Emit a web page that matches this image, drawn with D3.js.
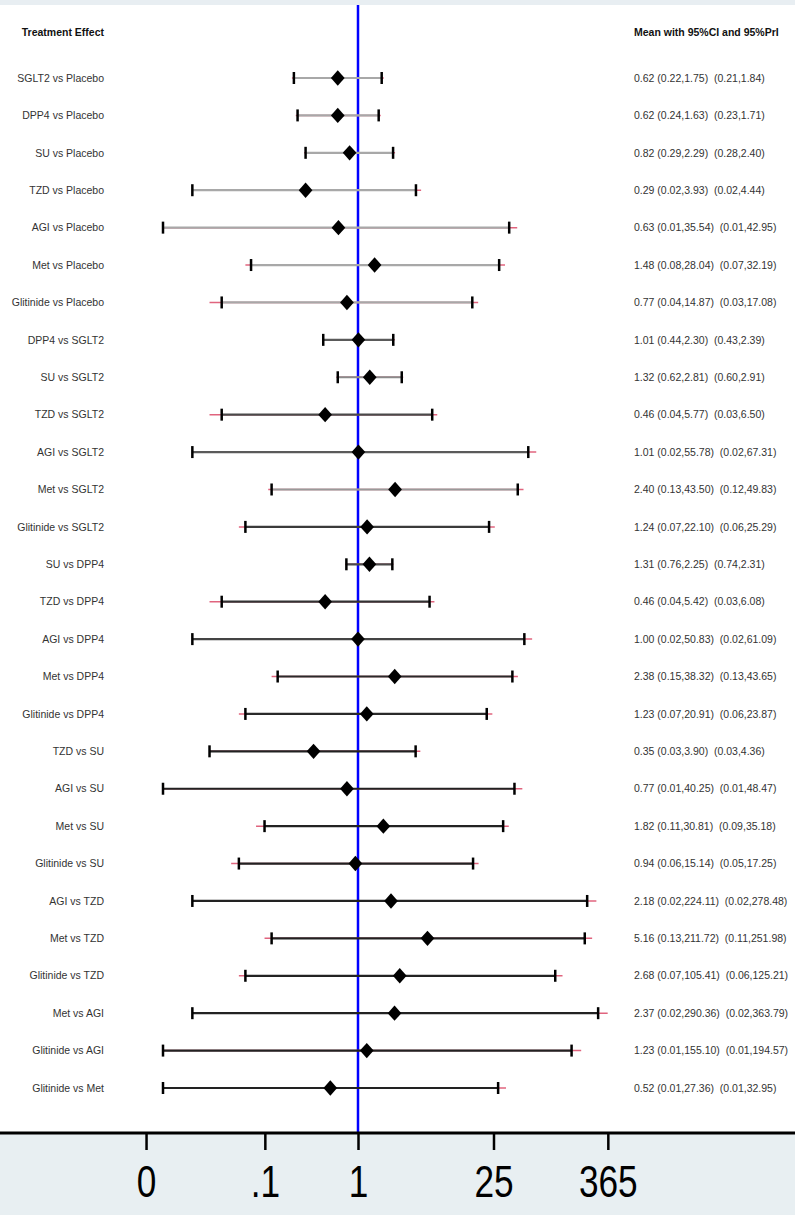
<!DOCTYPE html>
<html>
<head>
<meta charset="utf-8">
<script src="https://cdn.jsdelivr.net/npm/d3@7"></script>
<style>
  html, body { margin: 0; padding: 0; background: #ffffff; }
  svg { display: block; }
  text { font-family: "Liberation Sans", Arial, sans-serif; }
</style>
</head>
<body>
<svg id="chart" width="795" height="1215"></svg>
<script>
// Pairwise comparisons: mean effect, 95% confidence interval, 95% prediction interval
const comparisons = [
  "SGLT2 vs Placebo", "DPP4 vs Placebo", "SU vs Placebo", "TZD vs Placebo",
  "AGI vs Placebo", "Met vs Placebo", "Glitinide vs Placebo",
  "DPP4 vs SGLT2", "SU vs SGLT2", "TZD vs SGLT2", "AGI vs SGLT2",
  "Met vs SGLT2", "Glitinide vs SGLT2",
  "SU vs DPP4", "TZD vs DPP4", "AGI vs DPP4", "Met vs DPP4", "Glitinide vs DPP4",
  "TZD vs SU", "AGI vs SU", "Met vs SU", "Glitinide vs SU",
  "AGI vs TZD", "Met vs TZD", "Glitinide vs TZD",
  "Met vs AGI", "Glitinide vs AGI", "Glitinide vs Met"
];
const mean = [0.62, 0.62, 0.82, 0.29, 0.63, 1.48, 0.77, 1.01, 1.32, 0.46, 1.01, 2.40, 1.24,
  1.31, 0.46, 1.00, 2.38, 1.23, 0.35, 0.77, 1.82, 0.94, 2.18, 5.16, 2.68, 2.37, 1.23, 0.52];
const ciLow = [0.22, 0.24, 0.29, 0.02, 0.01, 0.08, 0.04, 0.44, 0.62, 0.04, 0.02, 0.13, 0.07,
  0.76, 0.04, 0.02, 0.15, 0.07, 0.03, 0.01, 0.11, 0.06, 0.02, 0.13, 0.07, 0.02, 0.01, 0.01];
const ciHigh = [1.75, 1.63, 2.29, 3.93, 35.54, 28.04, 14.87, 2.30, 2.81, 5.77, 55.78, 43.50, 22.10,
  2.25, 5.42, 50.83, 38.32, 20.91, 3.90, 40.25, 30.81, 15.14, 224.11, 211.72, 105.41, 290.36, 155.10, 27.36];
const priLow = [0.21, 0.23, 0.28, 0.02, 0.01, 0.07, 0.03, 0.43, 0.60, 0.03, 0.02, 0.12, 0.06,
  0.74, 0.03, 0.02, 0.13, 0.06, 0.03, 0.01, 0.09, 0.05, 0.02, 0.11, 0.06, 0.02, 0.01, 0.01];
const priHigh = [1.84, 1.71, 2.40, 4.44, 42.95, 32.19, 17.08, 2.39, 2.91, 6.50, 67.31, 49.83, 25.29,
  2.31, 6.08, 61.09, 43.65, 23.87, 4.36, 48.47, 35.18, 17.25, 278.48, 251.98, 125.21, 363.79, 194.57, 32.95];

// Axis ticks (log scale) and their labels
const tickValues = [0.0067, 0.1108, 1, 24.53, 365.04];
const tickLabels = ["0", ".1", "1", "25", "365"];

// Grey level of each interval line
const lineGrey = ["#a8a8a8", "#a8a8a8", "#a8a8a8", "#a8a8a8", "#a8a8a8", "#a8a8a8", "#a8a8a8",
  "#5a5a5a", "#8a8a8a", "#4a4a4a", "#5a5a5a", "#999999", "#3a3a3a",
  "#4a4a4a", "#333333", "#444444", "#2a2a2a", "#2a2a2a",
  "#222222", "#222222", "#222222", "#222222", "#222222", "#222222", "#222222",
  "#222222", "#222222", "#222222"];

const fmt = d3.format(".2f");
const rows = comparisons.map((name, i) => ({
  name, i,
  mean: mean[i], lo: ciLow[i], hi: ciHigh[i], plo: priLow[i], phi: priHigh[i],
  text: `${fmt(mean[i])} (${fmt(ciLow[i])},${fmt(ciHigh[i])})  (${fmt(priLow[i])},${fmt(priHigh[i])})`
}));

const W = 795, H = 1215;
const axisY = 1133;
const svg = d3.select("#chart");

// backgrounds
svg.append("rect").attr("x", 0).attr("y", 0).attr("width", W).attr("height", 5).attr("fill", "#e8eef2");
svg.append("rect").attr("x", 0).attr("y", axisY).attr("width", W).attr("height", H - axisY).attr("fill", "#e8eff2");

const x = d3.scaleLog().domain([0.001, 1000]).range([358 - 3 * 97.5, 358 + 3 * 97.5]);
const y = d3.scalePoint().domain(comparisons).range([78, 1088]);

// reference line at 1
svg.append("line")
  .attr("x1", x(1)).attr("x2", x(1))
  .attr("y1", 5).attr("y2", axisY)
  .attr("stroke", "#0000ff").attr("stroke-width", 2.5);

// headers
svg.append("text").attr("x", 104).attr("y", 32).attr("dy", "0.35em")
  .attr("text-anchor", "end").attr("font-size", 10.5).attr("font-weight", "bold")
  .attr("fill", "#111").text("Treatment Effect");
svg.append("text").attr("x", 634).attr("y", 32).attr("dy", "0.35em")
  .attr("font-size", 10.5).attr("font-weight", "bold")
  .attr("fill", "#111").text("Mean with 95%CI and 95%PrI");

const g = svg.append("g").selectAll("g").data(rows).join("g")
  .attr("transform", d => `translate(0,${y(d.name)})`);

// row labels
g.append("text").attr("x", 104).attr("dy", "0.35em").attr("text-anchor", "end")
  .attr("font-size", 10.5).attr("fill", "#333").text(d => d.name);

// estimate text
g.append("text").attr("x", 634).attr("dy", "0.35em")
  .attr("font-size", 10.5).attr("fill", "#333")
  .style("white-space", "pre").text(d => d.text);

// prediction interval
g.append("line").attr("x1", d => x(d.plo)).attr("x2", d => x(d.phi))
  .attr("stroke", "#e0647e").attr("stroke-width", 1.5);

// confidence interval
g.append("line").attr("x1", d => x(d.lo)).attr("x2", d => x(d.hi))
  .attr("stroke", d => lineGrey[d.i]).attr("stroke-width", 2.2);

// caps
["lo", "hi"].forEach(k => {
  g.append("line").attr("x1", d => x(d[k])).attr("x2", d => x(d[k]))
    .attr("y1", -6).attr("y2", 6)
    .attr("stroke", "#000").attr("stroke-width", 2.5);
});

// point estimate
const diamond = d3.symbol().type(d3.symbolDiamond2).size(120);
g.append("path").attr("d", diamond)
  .attr("transform", d => `translate(${x(d.mean)},0) scale(1,1.12)`)
  .attr("fill", "#000");

// x axis
const axis = d3.axisBottom(x).tickValues(tickValues)
  .tickFormat((d, i) => tickLabels[i]).tickSize(17).tickPadding(16);
const ax = svg.append("g").attr("transform", `translate(0,${axisY})`).call(axis);
ax.select(".domain").remove();
ax.selectAll(".tick line").attr("stroke", "#000").attr("stroke-width", 2.5);
ax.selectAll(".tick text")
  .attr("font-family", "'Liberation Sans Narrow', 'Arial Narrow', 'Liberation Sans', sans-serif")
  .attr("font-size", 44).attr("fill", "#000")
  .attr("transform", "scale(0.8,1)");
svg.append("line").attr("x1", 0).attr("x2", W).attr("y1", axisY).attr("y2", axisY)
  .attr("stroke", "#000").attr("stroke-width", 3);
</script>
</body>
</html>
